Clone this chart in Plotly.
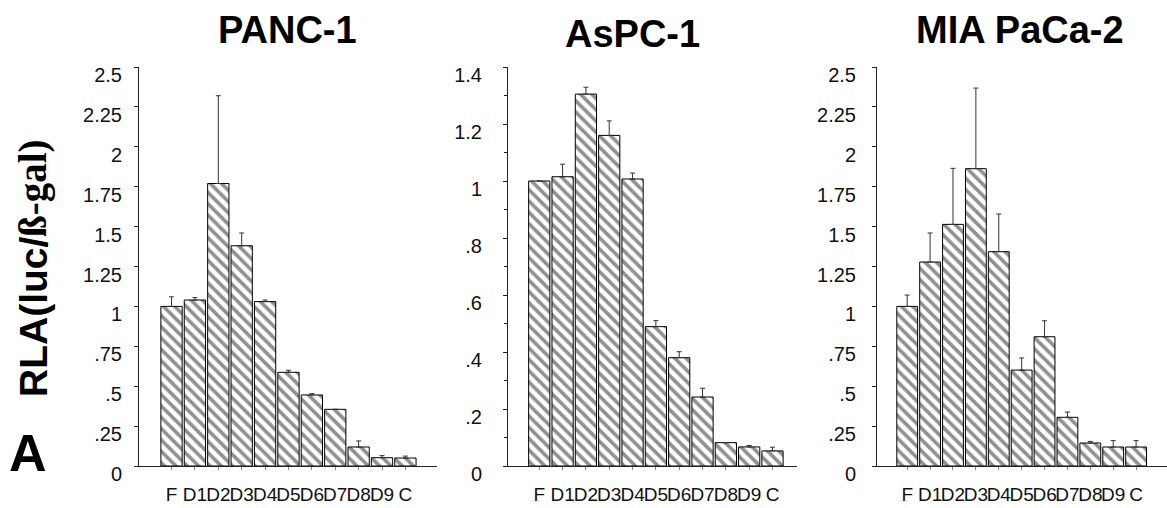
import plotly.graph_objects as go

categories = ["F", "D1", "D2", "D3", "D4", "D5", "D6", "D7", "D8", "D9", "C"]

panc1_values = [1.00, 1.04, 1.77, 1.38, 1.03, 0.587, 0.445, 0.355, 0.119, 0.052, 0.05]
panc1_err_top = [1.06, 1.055, 2.32, 1.46, 1.04, 0.60, 0.453, 0.355, 0.157, 0.065, 0.062]

aspc1_values = [1.00, 1.015, 1.305, 1.16, 1.007, 0.489, 0.380, 0.242, 0.082, 0.067, 0.053]
aspc1_err_top = [1.00, 1.059, 1.329, 1.211, 1.028, 0.51, 0.401, 0.273, 0.082, 0.072, 0.066]

mia_values = [1.00, 1.278, 1.514, 1.863, 1.343, 0.601, 0.81, 0.305, 0.144, 0.119, 0.119]
mia_err_top = [1.071, 1.46, 1.865, 2.368, 1.579, 0.677, 0.91, 0.338, 0.154, 0.159, 0.159]

titles = ["PANC-1", "AsPC-1", "MIA PaCa-2"]

quarter_ticks = [0, 0.25, 0.5, 0.75, 1, 1.25, 1.5, 1.75, 2, 2.25, 2.5]
quarter_text = ["0", ".25", ".5", ".75", "1", "1.25", "1.5", "1.75", "2", "2.25", "2.5"]
aspc_ticks = [0, 0.2, 0.4, 0.6, 0.8, 1.0, 1.2, 1.4]
aspc_text = ["0", ".2", ".4", ".6", ".8", "1", "1.2", "1.4"]

W, H = 1167, 508


def px_x(v):
    return v / W


def px_y(v):
    return 1 - v / H


panels = [
    (panc1_values, panc1_err_top, "x", "y"),
    (aspc1_values, aspc1_err_top, "x2", "y2"),
    (mia_values, mia_err_top, "x3", "y3"),
]

fig = go.Figure()
for vals, tops, xa, ya in panels:
    fig.add_trace(go.Bar(
        x=categories,
        y=vals,
        xaxis=xa,
        yaxis=ya,
        marker=dict(
            color="white",
            line=dict(color="black", width=1),
            pattern=dict(shape="\\", fgcolor="#222", bgcolor="white",
                         size=8, solidity=0.45),
        ),
        error_y=dict(
            type="data",
            symmetric=False,
            array=[t - v for t, v in zip(tops, vals)],
            arrayminus=[0] * len(vals),
            color="#333",
            thickness=1,
            width=2.5,
        ),
        showlegend=False,
    ))

tick_font = dict(family="Liberation Sans, Arial", size=20, color="#111")
cat_font = dict(family="Liberation Sans, Arial", size=19, color="#111")

y_dom = [px_y(466), px_y(67)]
# (x domain, x range, y tick label standoff)
x_doms = [
    ([px_x(139), px_x(437)], [-1.39, 11.35], 8),
    ([px_x(508), px_x(797)], [-1.34, 11.05], 17),
    ([px_x(877), px_x(1167)], [-1.32, 11.35], 12),
]

layout = dict(
    width=W, height=H,
    margin=dict(l=0, r=0, t=0, b=0, pad=0),
    paper_bgcolor="white",
    plot_bgcolor="white",
    bargap=0.09,
)

for i, (dom, rng, standoff) in enumerate(x_doms):
    suffix = "" if i == 0 else str(i + 1)
    layout["xaxis" + suffix] = dict(
        domain=dom, range=rng, anchor="y" + suffix,
        showline=True, linecolor="#222", linewidth=1,
        ticks="outside", ticklen=3, tickcolor="#888",
        tickmode="array", tickvals=categories, ticktext=categories,
        tickangle=0, automargin=False,
        showgrid=False, zeroline=False,
        tickfont=cat_font, ticklabelstandoff=8,
        fixedrange=True,
    )
    if i == 1:
        yt, ytt, yr = aspc_ticks, aspc_text, [0, 1.4]
        minor = dict(dtick=0.1, tick0=0, ticks="outside", ticklen=3, tickcolor="#222")
    else:
        yt, ytt, yr = quarter_ticks, quarter_text, [0, 2.5]
        minor = None
    ax = dict(
        domain=y_dom, range=yr, anchor="x" + suffix,
        showline=True, linecolor="#222", linewidth=1,
        ticks="outside", ticklen=4, tickcolor="#222",
        tickmode="array", tickvals=yt, ticktext=ytt,
        showgrid=False, zeroline=False, automargin=False,
        tickfont=tick_font, ticklabelshift=8, ticklabelstandoff=standoff,
        fixedrange=True,
    )
    if minor:
        ax["minor"] = minor
    layout["yaxis" + suffix] = ax

fig.update_layout(**layout)

title_pos = [(287, 30), (632, 34), (1020, 30)]
for t, (tx, ty) in zip(titles, title_pos):
    fig.add_annotation(
        text="<b>%s</b>" % t, x=px_x(tx), y=px_y(ty), xref="paper", yref="paper",
        showarrow=False, xanchor="center", yanchor="middle",
        font=dict(family="Liberation Sans, Arial", size=38, color="black"),
    )

# y-axis title: sans part and serif part, as in the original figure
fig.add_annotation(
    text="<b>RLA(luc/</b>",
    x=px_x(33), y=px_y(317), xref="paper", yref="paper",
    showarrow=False, textangle=-90, xanchor="center", yanchor="middle",
    font=dict(family="Liberation Sans, Arial", size=39, color="black"),
)
fig.add_annotation(
    text="<b>ß-gal)</b>",
    x=px_x(33), y=px_y(188), xref="paper", yref="paper",
    showarrow=False, textangle=-90, xanchor="center", yanchor="middle",
    font=dict(family="Liberation Serif, Times New Roman, serif", size=39, color="black"),
)

fig.add_annotation(
    text="<b>A</b>", x=px_x(28), y=px_y(453), xref="paper", yref="paper",
    showarrow=False, xanchor="center", yanchor="middle",
    font=dict(family="Liberation Sans, Arial", size=52, color="black"),
)

fig.write_html("out.html", config={"displayModeBar": False, "staticPlot": True},
               post_script="document.body.style.margin='0';")
